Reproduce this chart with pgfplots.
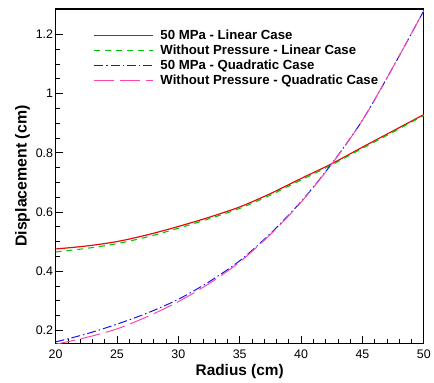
\documentclass[border=0pt]{standalone}
\usepackage{pgfplots}
\pgfplotsset{compat=1.18}
\usepackage{fontspec}
\setmainfont{Liberation Sans}
\definecolor{cred}{RGB}{230,10,10}
\definecolor{cgreen}{RGB}{0,200,0}
\definecolor{cblue}{RGB}{20,20,235}
\definecolor{cpink}{RGB}{255,70,170}
\begin{document}
\begin{tikzpicture}
\begin{axis}[
  scale only axis,
  width=371pt, height=337pt,
  xmin=20, xmax=50, ymin=0.156, ymax=1.286,
  xtick={20,25,...,50},
  ytick={0.2,0.4,0.6,0.8,1,1.2},
  yticklabels={0.2,0.4,0.6,0.8,1,1.2},
  minor x tick num=4,
  minor y tick num=3,
  tick align=inside,
  xtick pos=bottom, ytick pos=left,
  major tick length=7pt, minor tick length=4pt,
  tick style={black, line width=0.7pt},
  axis line style={line width=1.4pt},
  ticklabel style={font=\fontsize{12.5}{14}\selectfont},
  xticklabel style={yshift=-3pt},
  yticklabel style={xshift=1pt},
  /pgf/number format/assume math mode=true,
  xlabel={\bfseries Radius (cm)},
  ylabel={\bfseries Displacement (cm)},
  xlabel style={font=\fontsize{15.5}{17}\selectfont, yshift=1pt},
  ylabel style={font=\fontsize{16}{18}\selectfont, yshift=-1pt},
  legend style={draw=none, fill=none, at={(0.095,0.95)}, anchor=north west,
    font=\bfseries\fontsize{13.3}{15}\selectfont, row sep=0pt,
    legend cell align=left,
    /tikz/every odd column/.append style={column sep=5pt}},
  legend image code/.code={\draw[#1] (0pt,0pt) -- (59pt,0pt);},
]
\addplot[cred, line width=1.2pt, smooth] coordinates {
(20,0.475)(22.5,0.485)(25,0.500)(27.5,0.523)(30,0.551)(32.5,0.582)(35,0.617)(37.5,0.662)(40,0.713)(42.5,0.763)(45,0.819)(47.5,0.874)(50,0.929)};
\addlegendentry{50 MPa - Linear Case}
\addplot[cgreen, line width=1.1pt, smooth, dash pattern=on 6pt off 5pt] coordinates {
(20,0.465)(22.5,0.477)(25,0.493)(27.5,0.516)(30,0.545)(32.5,0.577)(35,0.612)(37.5,0.657)(40,0.708)(42.5,0.759)(45,0.815)(47.5,0.870)(50,0.926)};
\addlegendentry{Without Pressure - Linear Case}
\addplot[cblue, line width=1pt, smooth, dash pattern=on 9pt off 3pt on 1.5pt off 3pt] coordinates {
(20,0.161)(22.5,0.188)(25,0.221)(27.5,0.259)(30,0.305)(32.5,0.364)(35,0.435)(37.5,0.527)(40,0.635)(42.5,0.763)(45,0.910)(47.5,1.090)(50,1.280)};
\addlegendentry{50 MPa - Quadratic Case}
\addplot[cpink, line width=1pt, smooth, dash pattern=on 20pt off 6pt] coordinates {
(20,0.153)(22.5,0.176)(25,0.205)(27.5,0.247)(30,0.297)(32.5,0.358)(35,0.431)(37.5,0.524)(40,0.633)(42.5,0.762)(45,0.910)(47.5,1.090)(50,1.280)};
\addlegendentry{Without Pressure - Quadratic Case}
\end{axis}
\path (current axis.south west) ++(-56pt,-35pt) coordinate (bbA);
\path (current axis.north east) ++(7pt,9pt) coordinate (bbB);
\path (bbA) rectangle (bbB);
\end{tikzpicture}
\end{document}
